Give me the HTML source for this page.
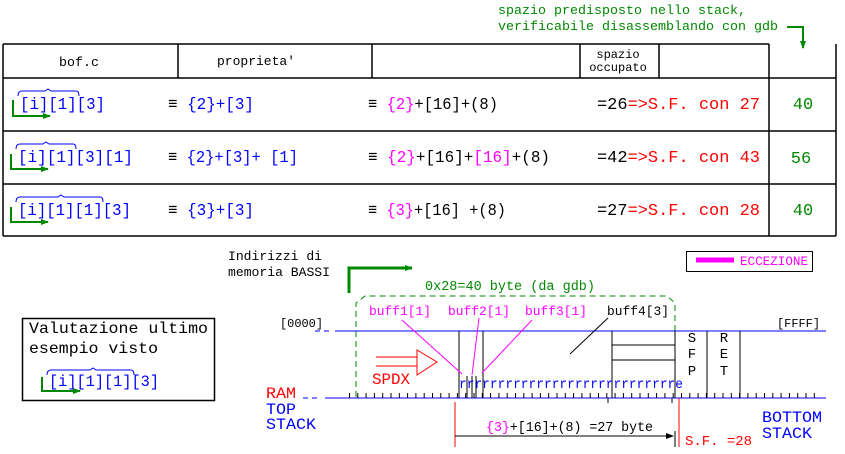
<!DOCTYPE html>
<html><head><meta charset="utf-8"><style>
body{margin:0;background:#fff}
svg{display:block}
.m{font-family:"Liberation Mono",monospace}
.s{font-family:"Liberation Sans",sans-serif}
</style></head><body>
<svg width="845" height="454" viewBox="0 0 845 454" xmlns="http://www.w3.org/2000/svg">
<defs>
<marker id="ga" markerWidth="8" markerHeight="6" refX="7" refY="3" orient="auto" markerUnits="userSpaceOnUse"><path d="M0,0L8,3L0,6z" fill="#080"/></marker>
<marker id="ba" markerWidth="8" markerHeight="6" refX="7" refY="3" orient="auto" markerUnits="userSpaceOnUse"><path d="M0,0L8,3L0,6z" fill="#000"/></marker>
<pattern id="tk" x="349" y="0" width="8.3" height="10" patternUnits="userSpaceOnUse"><rect x="0" y="0" width="1" height="10" fill="#000"/></pattern>
</defs>
<!-- top note -->
<text x="498" y="14" class="m" font-size="13" fill="#080" textLength="248" lengthAdjust="spacingAndGlyphs">spazio predisposto nello stack,</text>
<text x="498" y="30" class="m" font-size="13" fill="#080" textLength="280" lengthAdjust="spacingAndGlyphs">verificabile disassemblando con gdb</text>
<polyline points="787,27 803,27 803,48" fill="none" stroke="#080" stroke-width="2" marker-end="url(#ga)"/>
<!-- table -->
<g stroke="#000" stroke-width="1.5" fill="none">
<line x1="3" y1="44" x2="769" y2="44"/>
<line x1="3" y1="44" x2="3" y2="236"/>
<line x1="836" y1="44" x2="836" y2="236"/>
<line x1="769" y1="44" x2="769" y2="236"/>
<line x1="178" y1="44" x2="178" y2="78"/>
<line x1="372" y1="44" x2="372" y2="78"/>
<line x1="580" y1="44" x2="580" y2="78"/>
<line x1="659" y1="44" x2="659" y2="78"/>
<line x1="3" y1="78" x2="836" y2="78"/>
<line x1="3" y1="131" x2="836" y2="131"/>
<line x1="3" y1="184" x2="836" y2="184"/>
<line x1="3" y1="236" x2="836" y2="236"/>
</g>
<text x="59" y="66" class="m" font-size="13" textLength="40" lengthAdjust="spacingAndGlyphs">bof.c</text>
<text x="217" y="65" class="m" font-size="13" textLength="78" lengthAdjust="spacingAndGlyphs">proprieta'</text>
<text x="618" y="58" class="m" font-size="12" text-anchor="middle">spazio</text>
<text x="618" y="71" class="m" font-size="12" text-anchor="middle">occupato</text>
<!-- rows -->
<g class="m" font-size="17">
<text x="20" y="109" fill="#00f" textLength="85" lengthAdjust="spacingAndGlyphs">[i][1][3]</text>
<text x="168" y="109" fill="#000" textLength="86" lengthAdjust="spacingAndGlyphs">≡ <tspan fill="#00f">{2}+[3]</tspan></text>
<text x="368" y="109" fill="#000" textLength="130" lengthAdjust="spacingAndGlyphs">≡ <tspan fill="#f0f">{2}</tspan>+[16]+(8)</text>
<text x="597" y="109" fill="#000" textLength="163" lengthAdjust="spacingAndGlyphs">=26<tspan fill="#f00">=&gt;S.F. con 27</tspan></text>
<text x="803" y="109" fill="#080" text-anchor="middle">40</text>

<text x="18" y="162" fill="#00f" textLength="115" lengthAdjust="spacingAndGlyphs">[i][1][3][1]</text>
<text x="168" y="162" fill="#000" textLength="130" lengthAdjust="spacingAndGlyphs">≡ <tspan fill="#00f">{2}+[3]+ [1]</tspan></text>
<text x="368" y="162" fill="#000" textLength="182" lengthAdjust="spacingAndGlyphs">≡ <tspan fill="#f0f">{2}</tspan>+[16]+<tspan fill="#f0f">[16]</tspan>+(8)</text>
<text x="597" y="162" fill="#000" textLength="163" lengthAdjust="spacingAndGlyphs">=42<tspan fill="#f00">=&gt;S.F. con 43</tspan></text>
<text x="801" y="163" fill="#080" text-anchor="middle">56</text>

<text x="18" y="215" fill="#00f" textLength="113" lengthAdjust="spacingAndGlyphs">[i][1][1][3]</text>
<text x="168" y="215" fill="#000" textLength="86" lengthAdjust="spacingAndGlyphs">≡ <tspan fill="#00f">{3}+[3]</tspan></text>
<text x="368" y="215" fill="#000" textLength="138" lengthAdjust="spacingAndGlyphs">≡ <tspan fill="#f0f">{3}</tspan>+[16] +(8)</text>
<text x="597" y="215" fill="#000" textLength="163" lengthAdjust="spacingAndGlyphs">=27<tspan fill="#f00">=&gt;S.F. con 28</tspan></text>
<text x="803" y="215" fill="#080" text-anchor="middle">40</text>
</g>
<g fill="none" stroke="#00f" stroke-width="1">
<path d="M18,96 Q18,91 22,91 L45,91 L48,89 L51,91 L76,91 Q79,91 79,96"/>
<path d="M16,149 Q16,144 20,144 L43,144 L46,142 L49,144 L73,144 Q76,144 76,149"/>
<path d="M16,202 Q16,197 20,197 L58,197 L61,195 L64,197 L100,197 Q103,197 103,202"/>
<path d="M47,375 Q47,370 51,370 L90,370 L93,368 L96,370 L131,370 Q134,370 134,375"/>
</g>
<g fill="none" stroke="#080" stroke-width="2">
<polyline points="13,100 13,116 50,116" marker-end="url(#ga)"/>
<polyline points="11,154 11,169 48,169" marker-end="url(#ga)"/>
<polyline points="11,207 11,222 48,222" marker-end="url(#ga)"/>
<polyline points="42,377 42,391 80,391" marker-end="url(#ga)"/>
</g>
<!-- valutazione box -->
<rect x="22.5" y="318.5" width="192" height="82" fill="none" stroke="#000" stroke-width="1.5"/>
<text x="29" y="333" class="m" font-size="16" textLength="179" lengthAdjust="spacingAndGlyphs">Valutazione ultimo</text>
<text x="29" y="353" class="m" font-size="16" textLength="129" lengthAdjust="spacingAndGlyphs">esempio visto</text>
<text x="49" y="386" class="m" font-size="16" fill="#00f" textLength="110" lengthAdjust="spacingAndGlyphs">[i][1][1][3]</text>
<!-- indirizzi -->
<text x="228" y="260" class="m" font-size="12.5" textLength="94" lengthAdjust="spacingAndGlyphs">Indirizzi di</text>
<text x="228" y="276" class="m" font-size="12.5" textLength="102" lengthAdjust="spacingAndGlyphs">memoria BASSI</text>
<polyline points="349,293 349,268 412,268" fill="none" stroke="#080" stroke-width="3" marker-end="url(#ga)"/>
<!-- eccezione -->
<rect x="686.5" y="251.5" width="126" height="20" fill="none" stroke="#000"/>
<line x1="696" y1="260" x2="734" y2="260" stroke="#f0f" stroke-width="5"/>
<text x="740" y="265" class="m" font-size="12.5" fill="#f0f" textLength="68" lengthAdjust="spacingAndGlyphs">ECCEZIONE</text>
<!-- bracket -->
<text x="425" y="290" class="m" font-size="13.5" fill="#080" textLength="170" lengthAdjust="spacingAndGlyphs">0x28=40 byte (da gdb)</text>
<path d="M356,397 L356,303 L365,296 L667,296 L675,303 L675,331" fill="none" stroke="#080" stroke-dasharray="6,4"/>
<!-- stack -->
<text x="280" y="327" class="m" font-size="12" textLength="43" lengthAdjust="spacingAndGlyphs">[0000]</text>
<text x="777" y="327" class="m" font-size="12" textLength="43" lengthAdjust="spacingAndGlyphs">[FFFF]</text>
<line x1="315" y1="331" x2="330" y2="331" stroke="#00f" stroke-dasharray="5,4"/>
<line x1="335" y1="331" x2="826" y2="331" stroke="#00f"/>
<line x1="303" y1="398" x2="318" y2="398" stroke="#00f" stroke-dasharray="5,4"/>
<line x1="325" y1="398" x2="826" y2="398" stroke="#00f"/>
<rect x="349" y="393" width="472" height="5" fill="url(#tk)"/>
<g stroke="#000">
<path d="M459,331v67 M483,331v67 M612,331v67 M675,331v67 M707,331v67 M740,331v67 M612,345h63 M612,360h63 M467,376v22 M472,376v22 M476,376v22"/>
<path d="M608,398v5 M672,398v5"/>
<line x1="570" y1="354" x2="608" y2="318"/>
</g>
<text x="459" y="388" class="m" font-size="14" fill="#00f" textLength="224" lengthAdjust="spacingAndGlyphs">rrrrrrrrrrrrrrrrrrrrrrrrrrrre</text>
<g class="m" font-size="14" text-anchor="middle">
<text x="692" y="342">S</text>
<text x="692" y="358">F</text>
<text x="692" y="375">P</text>
<text x="724" y="342">R</text>
<text x="724" y="358">E</text>
<text x="724" y="375">T</text>
</g>
<text x="369" y="315" class="m" font-size="13" fill="#f0f" textLength="62" lengthAdjust="spacingAndGlyphs">buff1[1]</text>
<text x="448" y="315" class="m" font-size="13" fill="#f0f" textLength="62" lengthAdjust="spacingAndGlyphs">buff2[1]</text>
<text x="525" y="315" class="m" font-size="13" fill="#f0f" textLength="62" lengthAdjust="spacingAndGlyphs">buff3[1]</text>
<text x="607" y="315" class="m" font-size="13" textLength="62" lengthAdjust="spacingAndGlyphs">buff4[3]</text>
<g stroke="#f0f">
<line x1="402" y1="320" x2="462" y2="374"/>
<line x1="479" y1="318" x2="472" y2="375"/>
<line x1="532" y1="320" x2="482" y2="373"/>
</g>
<g fill="none" stroke="#f00">
<path d="M376,357h41 M376,366h41 M417,350v25 L437,362 Z"/>
<line x1="455" y1="402" x2="455" y2="447"/>
<line x1="679" y1="398" x2="679" y2="447"/>
</g>
<text x="372" y="384" class="m" font-size="16" fill="#f00" textLength="38" lengthAdjust="spacingAndGlyphs">SPDX</text>
<text x="266" y="398" class="m" font-size="16" fill="#f00" textLength="30" lengthAdjust="spacingAndGlyphs">RAM</text>
<text x="266" y="414" class="m" font-size="16" fill="#00f" textLength="30" lengthAdjust="spacingAndGlyphs">TOP</text>
<text x="266" y="429" class="m" font-size="16" fill="#00f" textLength="50" lengthAdjust="spacingAndGlyphs">STACK</text>
<text x="762" y="422" class="m" font-size="16" fill="#00f" textLength="60" lengthAdjust="spacingAndGlyphs">BOTTOM</text>
<text x="762" y="438" class="m" font-size="16" fill="#00f" textLength="50" lengthAdjust="spacingAndGlyphs">STACK</text>
<line x1="455" y1="436" x2="673" y2="436" stroke="#000" marker-end="url(#ba)"/>
<line x1="675" y1="431" x2="675" y2="447" stroke="#000"/>
<text x="486" y="431" class="m" font-size="14" textLength="167" lengthAdjust="spacingAndGlyphs"><tspan fill="#f0f">{3}</tspan>+[16]+(8) =27 byte</text>
<text x="685" y="445" class="m" font-size="13.5" fill="#f00" textLength="67" lengthAdjust="spacingAndGlyphs">S.F. =28</text>
</svg>
</body></html>
